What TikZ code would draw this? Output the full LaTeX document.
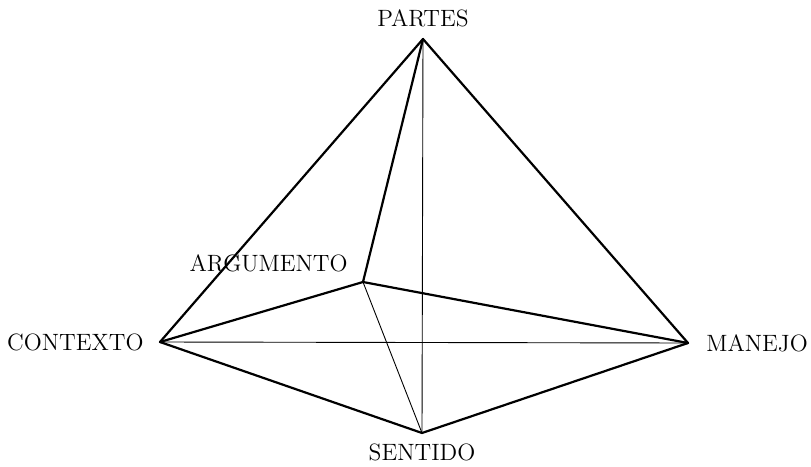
\documentclass[tikz,border=0pt]{standalone}
\usetikzlibrary{positioning}

\begin{document}
\begin{tikzpicture}[x=0.5pt,y=-0.5pt,line cap=round,line join=round,
  edge/.style={line width=1.1pt},
  hidden/.style={line width=0.45pt},
  vlabel/.style={inner sep=0pt,font=\fontsize{11.8}{14}\selectfont}]
  \useasboundingbox (0,0) rectangle (811,467);
  % vertices
  \coordinate (partes) at (423,39);
  \coordinate (argumento) at (363,282);
  \coordinate (contexto) at (160,342);
  \coordinate (manejo) at (688,343);
  \coordinate (sentido) at (422,433);
  % labels
  \node[vlabel,above=6pt of partes] (lpartes) {PARTES};
  \node[vlabel,anchor=south east] (largumento) at (348,272) {ARGUMENTO};
  \node[vlabel,left=8pt of contexto] (lcontexto) {CONTEXTO};
  \node[vlabel,right=9pt of manejo] (lmanejo) {MANEJO};
  \node[vlabel,below=5pt of sentido] (lsentido) {SENTIDO};
  % thin edges
  \draw[hidden] (partes) -- (sentido);
  \draw[hidden] (contexto) -- (manejo);
  \draw[hidden] (argumento) -- (sentido);
  % thick edges
  \draw[edge] (contexto) -- (partes) -- (manejo);
  \draw[edge] (partes) -- (argumento);
  \draw[edge] (contexto) -- (argumento) -- (manejo);
  \draw[edge] (contexto) -- (sentido) -- (manejo);
\end{tikzpicture}
\end{document}
